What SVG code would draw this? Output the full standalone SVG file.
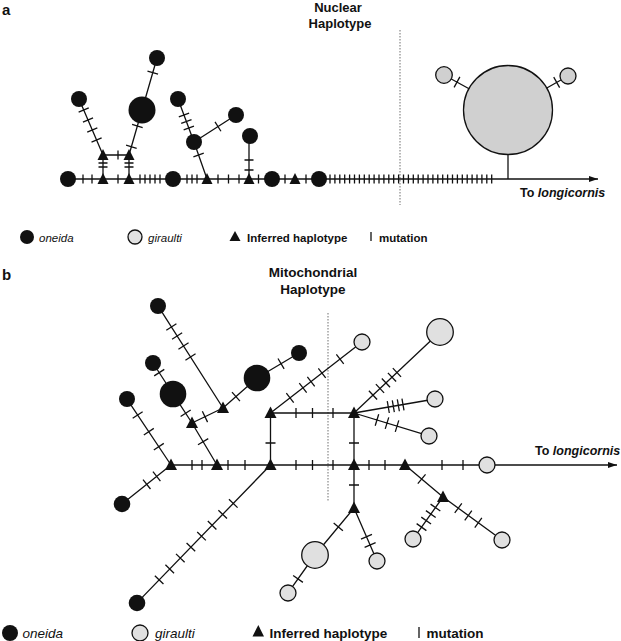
<svg xmlns="http://www.w3.org/2000/svg" width="621" height="641" viewBox="0 0 621 641">
<style>
.ln{stroke:#111;stroke-width:1.3;fill:none}
.dot{stroke:#888;stroke-width:1.2;stroke-dasharray:1.5 1.5;fill:none}
.on{fill:#111}
.gi{fill:#d0d0d0;stroke:#111;stroke-width:1.3}
.gb{fill:#e0e0e0;stroke:#111;stroke-width:1.3}
.tri{fill:#111}
text{font-family:"Liberation Sans",Arial,sans-serif;fill:#111}
.b{font-weight:bold}
.i{font-style:italic}
</style>
<defs>
<marker id="ar" markerUnits="userSpaceOnUse" markerWidth="9" markerHeight="6" refX="9" refY="3" orient="auto"><path d="M0 0L9 3L0 6z" fill="#111"/></marker>
</defs>

<!-- Panel a titles -->
<text x="2" y="15" class="b" font-size="15">a</text>
<text x="338" y="12" class="b" font-size="13" text-anchor="middle">Nuclear</text>
<text x="340" y="28" class="b" font-size="13" text-anchor="middle">Haplotype</text>
<line class="dot" x1="400" y1="30" x2="400" y2="205"/>

<g id="connectors-a">
<line class="ln" x1="68" y1="179" x2="598" y2="179" marker-end="url(#ar)"/>
<path class="ln" d="M83 174.5v9M92 174.5v9M118 174.5v9M140 174.5v9M145 174.5v9M150 174.5v9M155 174.5v9M160 174.5v9M187 174.5v9M192 174.5v9M197 174.5v9M218 174.5v9M228.5 174.5v9M239 174.5v9M258.5 174.5v9M285 174.5v9M306 174.5v9M330 174.5v9M334.9 174.5v9M339.8 174.5v9M344.7 174.5v9M349.6 174.5v9M354.5 174.5v9M359.4 174.5v9M364.3 174.5v9M369.2 174.5v9M374.1 174.5v9M379 174.5v9M383.9 174.5v9M388.8 174.5v9M393.7 174.5v9M398.6 174.5v9M403.5 174.5v9M408.4 174.5v9M413.3 174.5v9M418.2 174.5v9M423.1 174.5v9M428 174.5v9M432.9 174.5v9M437.8 174.5v9M442.7 174.5v9M447.6 174.5v9M452.5 174.5v9M457.4 174.5v9M462.3 174.5v9M467.2 174.5v9M472.1 174.5v9M477 174.5v9M481.9 174.5v9M486.8 174.5v9M491.7 174.5v9"/>
<path class="ln" d="M103 179V155M98.5 163h9M98.5 167h9"/>
<path class="ln" d="M129 179V155M124.5 163h9M124.5 167h9"/>
<path class="ln" d="M103 155H129M118 150.5v9"/>
<g transform="translate(103,155) rotate(-113.2)"><path class="ln" d="M0 0H60.9M16.3 -5.5v11M27.2 -5.5v11M38.1 -5.5v11M49 -5.5v11"/></g>
<g transform="translate(129,155) rotate(-73.9)"><path class="ln" d="M0 0H46.8M8.6 -5.5v11M30.2 -5.5v11"/></g>
<g transform="translate(142,110) rotate(-73.9)"><path class="ln" d="M0 0H54.1M38.8 -5.5v11"/></g>
<g transform="translate(178,99) rotate(69.6)"><path class="ln" d="M0 0H45.9M17.1 -5.5v11M24 -5.5v11M31 -5.5v11"/></g>
<g transform="translate(194,142) rotate(70.6)"><path class="ln" d="M0 0H39.2M13.8 -5.5v11"/></g>
<g transform="translate(194,142) rotate(-32.7)"><path class="ln" d="M0 0H49.9M28.5 -5.5v11"/></g>
<path class="ln" d="M249 179V136M244.5 160h9M244.5 170h9"/>
<path class="ln" d="M508 179V154"/>
<g transform="translate(444,75) rotate(28.7)"><path class="ln" d="M0 0H40M14.8 -6v12"/></g>
<g transform="translate(568,76) rotate(150.5)"><path class="ln" d="M0 0H35M13 -6v12"/></g>
</g>

<g id="nodes-a">
<g id="a-c1"><circle class="on" cx="68" cy="179" r="8"/></g>
<g id="a-c2"><circle class="on" cx="173" cy="179" r="8"/></g>
<g id="a-c3"><circle class="on" cx="272" cy="179" r="8"/></g>
<g id="a-c4"><circle class="on" cx="319" cy="179" r="8"/></g>
<g id="a-t1"><path class="tri" d="M97.5 184H108.5L103 173z"/></g>
<g id="a-t2"><path class="tri" d="M123.5 184H134.5L129 173z"/></g>
<g id="a-t3"><path class="tri" d="M201.5 184H212.5L207 173z"/></g>
<g id="a-t4"><path class="tri" d="M243.5 184H254.5L249 173z"/></g>
<g id="a-t5"><path class="tri" d="M289.5 184H300.5L295 173z"/></g>
<g id="a-t6"><path class="tri" d="M97.5 160H108.5L103 149z"/></g>
<g id="a-t7"><path class="tri" d="M123.5 160H134.5L129 149z"/></g>
<g id="a-c5"><circle class="on" cx="79" cy="99" r="8"/></g>
<g id="a-c6"><circle class="on" cx="142" cy="110" r="13.5"/></g>
<g id="a-c7"><circle class="on" cx="157" cy="58" r="8"/></g>
<g id="a-c8"><circle class="on" cx="178" cy="99" r="8"/></g>
<g id="a-c9"><circle class="on" cx="194" cy="142" r="8"/></g>
<g id="a-c10"><circle class="on" cx="236" cy="115" r="8"/></g>
<g id="a-c11"><circle class="on" cx="250" cy="136" r="8"/></g>
<g id="a-g1"><circle class="gi" cx="508" cy="110" r="44.5"/></g>
<g id="a-g2"><circle class="gi" cx="444" cy="75" r="8.3"/></g>
<g id="a-g3"><circle class="gi" cx="568" cy="76" r="8"/></g>
</g>
<text x="520" y="197" class="b" font-size="12.5">To <tspan class="i">longicornis</tspan></text>

<g id="legend-a">
<circle class="on" cx="27" cy="237" r="7"/>
<text x="39" y="241.5" class="i" font-size="11.5">oneida</text>
<circle class="gb" cx="135" cy="237" r="7"/>
<text x="148" y="241.5" class="i" font-size="11.5">giraulti</text>
<path class="tri" d="M229.5 241H240.5L235 231z"/>
<text x="247" y="241.5" class="b" font-size="11.5">Inferred haplotype</text>
<line class="ln" x1="371" y1="232" x2="371" y2="241"/>
<text x="379" y="241.5" class="b" font-size="11.5">mutation</text>
</g>

<!-- Panel b -->
<text x="2" y="280" class="b" font-size="15">b</text>
<text x="313" y="277" class="b" font-size="13.5" text-anchor="middle">Mitochondrial</text>
<text x="313" y="294" class="b" font-size="13.5" text-anchor="middle">Haplotype</text>
<line class="dot" x1="328" y1="313" x2="328" y2="502"/>

<g id="connectors-b">
<line class="ln" x1="171" y1="465" x2="617" y2="465" marker-end="url(#ar)"/>
<path class="ln" d="M192 460v10M202 460v10M228 460v10M245 460v10M296 460v10M312.5 460v10M333 460v10M369 460v10M385 460v10M442 460v10M463 460v10"/>
<path class="ln" d="M270.5 413H354M296 408v10M312.5 408v10M333 408v10"/>
<path class="ln" d="M270.5 413V465M265.5 443h10M354 413V508M349 443h10M349 485h10"/>
<g transform="translate(171,465) rotate(-123.7)"><path class="ln" d="M0 0H79.3M22 -6v12M40 -6v12M60.1 -6v12"/></g>
<g transform="translate(171,465) rotate(141.5)"><path class="ln" d="M0 0H62.6M18.3 -6v12M31 -6v12"/></g>
<g transform="translate(217,465) rotate(-120.8)"><path class="ln" d="M0 0H48.9M27.1 -6v12"/></g>
<g transform="translate(192,423) rotate(-123.2)"><path class="ln" d="M0 0H34.7M11.6 -6v12"/></g>
<g transform="translate(173,394) rotate(-122.8)"><path class="ln" d="M0 0H36.9M25.4 -6v12"/></g>
<g transform="translate(192,423) rotate(-25.8)"><path class="ln" d="M0 0H34.4M14.4 -6v12"/></g>
<g transform="translate(223,408) rotate(-122.5)"><path class="ln" d="M0 0H121M60.5 -6v12M73.5 -6v12M85.4 -6v12M96.1 -6v12"/></g>
<g transform="translate(223,408) rotate(-41.4)"><path class="ln" d="M0 0H45.3M17.3 -6v12"/></g>
<g transform="translate(257,378) rotate(-30.8)"><path class="ln" d="M0 0H48.9M28 -6v12"/></g>
<g transform="translate(270.5,413) rotate(-37.8)"><path class="ln" d="M0 0H115.8M24.7 -6v12M41.1 -6v12M51.3 -6v12M65.2 -6v12M88 -6v12"/></g>
<g transform="translate(354,413) rotate(-43.3)"><path class="ln" d="M0 0H118.1M26.1 -6v12M35.7 -6v12M43.9 -6v12M52.2 -6v12M59 -6v12"/></g>
<g transform="translate(354,413) rotate(-9.8)"><path class="ln" d="M0 0H82.2M34.8 -6v12M39.9 -6v12M45 -6v12M49.7 -6v12"/></g>
<g transform="translate(354,413) rotate(17)"><path class="ln" d="M0 0H78.4M24 -6v12M34.5 -6v12M45 -6v12"/></g>
<g transform="translate(270.5,465) rotate(134.1)"><path class="ln" d="M0 0H192M53.5 -6v12M68.7 -6v12M83.9 -6v12M99.1 -6v12M114.4 -6v12M129.6 -6v12M144.8 -6v12M160 -6v12"/></g>
<g transform="translate(354,508) rotate(129.7)"><path class="ln" d="M0 0H61.1M24.6 -6v12"/></g>
<g transform="translate(315,555) rotate(125.4)"><path class="ln" d="M0 0H46.6M29.3 -6v12"/></g>
<g transform="translate(354,508) rotate(66.5)"><path class="ln" d="M0 0H57.8M31.3 -6v12M40.4 -6v12"/></g>
<g transform="translate(405,465) rotate(40.1)"><path class="ln" d="M0 0H49.7M21.8 -6v12"/></g>
<g transform="translate(443,497) rotate(36.1)"><path class="ln" d="M0 0H73M18.9 -6v12M31.3 -6v12M43.7 -6v12"/></g>
<g transform="translate(443,497) rotate(125.5)"><path class="ln" d="M0 0H51.6M13 -6v12M21 -6v12M29 -6v12M37 -6v12"/></g>
</g>

<g id="nodes-b">
<g id="b-t1"><path class="tri" d="M165 470H177L171 458.5z"/></g>
<g id="b-t2"><path class="tri" d="M211 470H223L217 458.5z"/></g>
<g id="b-t3"><path class="tri" d="M264.5 470H276.5L270.5 458.5z"/></g>
<g id="b-t4"><path class="tri" d="M348 470H360L354 458.5z"/></g>
<g id="b-t5"><path class="tri" d="M399 470H411L405 458.5z"/></g>
<g id="b-t6"><path class="tri" d="M264.5 418H276.5L270.5 406.5z"/></g>
<g id="b-t7"><path class="tri" d="M348 418H360L354 406.5z"/></g>
<g id="b-t8"><path class="tri" d="M348 513H360L354 501.5z"/></g>
<g id="b-t9"><path class="tri" d="M437 502H449L443 490.5z"/></g>
<g id="b-t10"><path class="tri" d="M186 428H198L192 416.5z"/></g>
<g id="b-t11"><path class="tri" d="M217 413H229L223 401.5z"/></g>
<g id="b-c1"><circle class="on" cx="127" cy="399" r="8"/></g>
<g id="b-c2"><circle class="on" cx="122" cy="504" r="8.3"/></g>
<g id="b-c3"><circle class="on" cx="173" cy="394" r="13.3"/></g>
<g id="b-c4"><circle class="on" cx="153" cy="363" r="8"/></g>
<g id="b-c5"><circle class="on" cx="158" cy="306" r="8"/></g>
<g id="b-c6"><circle class="on" cx="257" cy="378" r="13.3"/></g>
<g id="b-c7"><circle class="on" cx="299" cy="353" r="8"/></g>
<g id="b-c8"><circle class="on" cx="137" cy="603" r="8.3"/></g>
<g id="b-g1"><circle class="gb" cx="362" cy="342" r="8"/></g>
<g id="b-g2"><circle class="gb" cx="440" cy="332" r="13.3"/></g>
<g id="b-g3"><circle class="gb" cx="435" cy="399" r="8"/></g>
<g id="b-g4"><circle class="gb" cx="429" cy="436" r="8"/></g>
<g id="b-g5"><circle class="gb" cx="487" cy="465" r="8"/></g>
<g id="b-g6"><circle class="gb" cx="315" cy="555" r="13.3"/></g>
<g id="b-g7"><circle class="gb" cx="288" cy="593" r="8"/></g>
<g id="b-g8"><circle class="gb" cx="377" cy="561" r="8"/></g>
<g id="b-g9"><circle class="gb" cx="502" cy="540" r="8"/></g>
<g id="b-g10"><circle class="gb" cx="413" cy="539" r="8"/></g>
</g>
<text x="535" y="455" class="b" font-size="12.5">To <tspan class="i">longicornis</tspan></text>

<g id="legend-b">
<circle class="on" cx="10" cy="633" r="8"/>
<text x="22.5" y="637.5" class="i" font-size="13.5">oneida</text>
<circle class="gb" cx="140" cy="633" r="8"/>
<text x="155" y="637.5" class="i" font-size="13.5">giraulti</text>
<path class="tri" d="M252.5 636.5H264L258.3 625z"/>
<text x="269.5" y="637.5" class="b" font-size="13.5">Inferred haplotype</text>
<line class="ln" x1="419" y1="627" x2="419" y2="638"/>
<text x="426.5" y="637.5" class="b" font-size="13.5">mutation</text>
</g>
</svg>
